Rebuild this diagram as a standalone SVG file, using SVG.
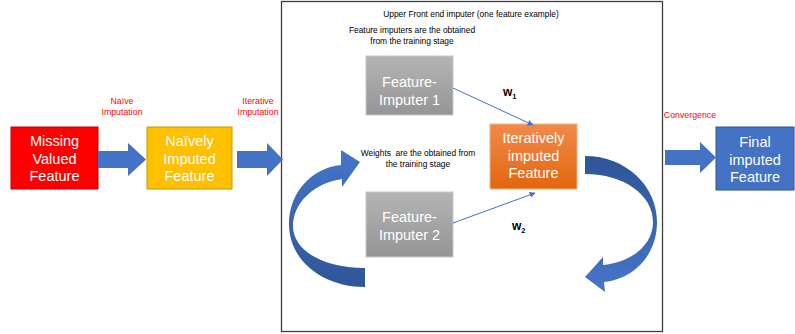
<svg xmlns="http://www.w3.org/2000/svg" width="795" height="334" viewBox="0 0 795 334">
  <defs>
    <linearGradient id="grayFill" x1="0" y1="0" x2="0" y2="1">
      <stop offset="0" stop-color="#B4B4B4"/>
      <stop offset="1" stop-color="#959595"/>
    </linearGradient>
    <linearGradient id="orangeFill" x1="0" y1="0" x2="0" y2="1">
      <stop offset="0" stop-color="#F2894A"/>
      <stop offset="1" stop-color="#E2670E"/>
    </linearGradient>
    <linearGradient id="loopLeft" x1="0" y1="0" x2="0" y2="1">
      <stop offset="0" stop-color="#4675CA"/>
      <stop offset="1" stop-color="#2F5597"/>
    </linearGradient>
    <linearGradient id="loopRight" x1="0" y1="0" x2="0" y2="1">
      <stop offset="0" stop-color="#2F5597"/>
      <stop offset="1" stop-color="#4675CA"/>
    </linearGradient>
    <marker id="tip" viewBox="0 0 10 10" refX="9" refY="5" markerWidth="6" markerHeight="6" orient="auto" markerUnits="userSpaceOnUse">
      <path d="M0,0 L10,5 L0,10 Z" fill="#4472C4"/>
    </marker>
  </defs>
  <style>
    .box-text { font-family: "Liberation Sans", Arial, sans-serif; font-size: 14.5px; fill: #FFFFFF; text-anchor: middle; }
    .note { font-family: "Liberation Sans", Arial, sans-serif; font-size: 8.4px; fill: #000000; text-anchor: middle; white-space: pre; }
    .red-label { font-family: "Liberation Sans", Arial, sans-serif; font-size: 8.8px; fill: #FF0000; text-anchor: middle; }
    .weight { font-family: "Liberation Sans", Arial, sans-serif; font-weight: bold; fill: #000000; }
    .block-arrow { fill: #4472C4; }
    .thin-link { stroke: #4472C4; stroke-width: 1; fill: none; marker-end: url(#tip); }
  </style>

  <rect width="795" height="334" fill="#FFFFFF"/>

  <!-- imputer frame -->
  <g id="frame">
    <rect x="281.5" y="1.5" width="381" height="330" fill="none" stroke="#3F3F3F" stroke-width="1.3"/>
    <text class="note" x="471" y="17">Upper Front end imputer (one feature example)</text>
    <text class="note" x="412" y="33">Feature imputers are the obtained</text>
    <text class="note" x="412" y="44">from the training stage</text>
    <text class="note" x="418" y="156">Weights  are the obtained from</text>
    <text class="note" x="418" y="166.5">the training stage</text>
  </g>

  <g id="missing">
    <rect x="11" y="127" width="87" height="62" fill="#FF0000" stroke="#C00000" stroke-width="1"/>
    <text class="box-text" x="54.5" y="146">Missing</text>
    <text class="box-text" x="54.5" y="163.5">Valued</text>
    <text class="box-text" x="54.5" y="181">Feature</text>
  </g>

  <g id="naive">
    <rect x="147" y="127" width="85" height="62" fill="#FFC000" stroke="#C89800" stroke-width="1"/>
    <text class="box-text" x="189.5" y="146">Naïvely</text>
    <text class="box-text" x="189.5" y="163.5">Imputed</text>
    <text class="box-text" x="189.5" y="181">Feature</text>
  </g>

  <g id="imputer1">
    <rect x="366" y="56" width="87" height="59" fill="url(#grayFill)" stroke="#C8C8C8" stroke-width="1"/>
    <text class="box-text" x="409.5" y="87">Feature-</text>
    <text class="box-text" x="409.5" y="104.5">Imputer 1</text>
  </g>

  <g id="imputer2">
    <rect x="366" y="192" width="87" height="65" fill="url(#grayFill)" stroke="#C8C8C8" stroke-width="1"/>
    <text class="box-text" x="409.5" y="222">Feature-</text>
    <text class="box-text" x="409.5" y="240">Imputer 2</text>
  </g>

  <g id="iterative">
    <rect x="490" y="124" width="87" height="65" fill="url(#orangeFill)" stroke="#F4B183" stroke-width="1"/>
    <text class="box-text" x="533.5" y="143">Iteratively</text>
    <text class="box-text" x="533.5" y="160.5">imputed</text>
    <text class="box-text" x="533.5" y="178">Feature</text>
  </g>

  <g id="final">
    <rect x="716" y="127" width="78" height="63" fill="#4472C4" stroke="#2F5597" stroke-width="1"/>
    <text class="box-text" x="755" y="147">Final</text>
    <text class="box-text" x="755" y="164.5">imputed</text>
    <text class="box-text" x="755" y="182">Feature</text>
  </g>

  <g id="connectors">
    <!-- block arrows between stages -->
    <path class="block-arrow" d="M98,151 H128 V143 L146,159.5 L128,176 V168 H98 Z"/>
    <path class="block-arrow" d="M237,151 H267 V143 L283,159.5 L267,176 V168 H237 Z"/>
    <path class="block-arrow" d="M665,150 H700 V142 L716,157.5 L700,173 V165 H665 Z"/>

    <!-- iteration loops -->
    <path fill="url(#loopLeft)" d="M365,287 C322,287 289,260 289,224 C289,192 312,168 341,165 L341,150 L360,162 L342,187 L342,179 C314,183 293,203 293,226 C293,250 322,268 365,268 Z"/>
    <path fill="url(#loopRight)" d="M585,156 C626,156 657,186 657,222 C657,255 634,279 604,282 L605,292 L585,277 L603,257 L603,265 C632,262 653,245 653,222 C653,195 624,174 585,174 Z"/>

    <!-- weighted links -->
    <line class="thin-link" x1="453" y1="88" x2="533" y2="125"/>
    <line class="thin-link" x1="453" y1="223" x2="535" y2="193"/>

    <text class="red-label" x="122" y="104">Naïve</text>
    <text class="red-label" x="122" y="115">Imputation</text>
    <text class="red-label" x="258" y="104">Iterative</text>
    <text class="red-label" x="258" y="115">Imputation</text>
    <text class="red-label" x="690" y="118">Convergence</text>

    <text class="weight" x="503" y="96" font-size="12">w<tspan font-size="7.5" dy="3">1</tspan></text>
    <text class="weight" x="512" y="230" font-size="12">w<tspan font-size="7.5" dy="3">2</tspan></text>
  </g>
</svg>
